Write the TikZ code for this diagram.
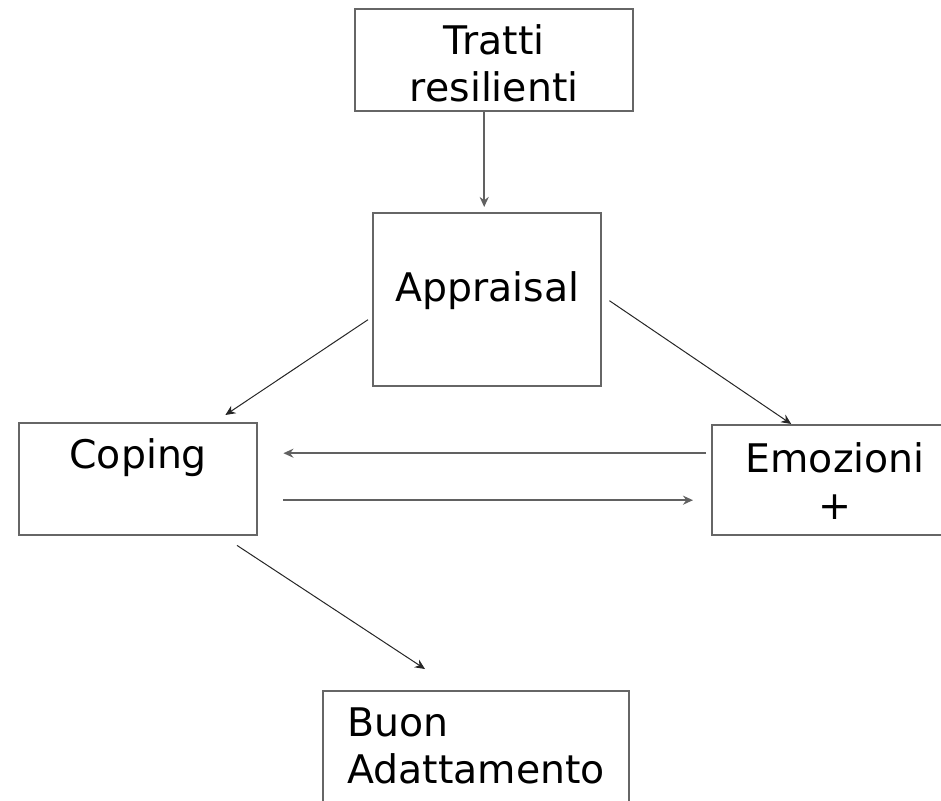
\documentclass[tikz,border=0pt]{standalone}
\usepackage{fontspec}
\setmainfont{DejaVu Sans}
\usetikzlibrary{arrows.meta, calc, positioning}

\begin{document}
\begin{tikzpicture}[
    x=0.5pt, y=-0.5pt,
    every node/.style={font=\fontsize{19.7}{23.5}\selectfont},
    box/.style={rectangle, draw=black!60, line width=1.2pt, inner sep=0pt, anchor=north west},
    arrow/.style={->, >={Stealth[length=5pt,width=4.5pt]}, draw=black!62, line width=1pt},
    thinarrow/.style={->, >={Stealth[length=5pt,width=4.5pt]}, draw=black!85, line width=0.5pt}
]
\useasboundingbox (0,0) rectangle (941,801);

% Boxes
\node (tratti) [box, align=center, minimum width=139pt, text height=46pt, text depth=5pt] at (354,8) {Tratti\\resilienti};
\node (appraisal) [box, minimum width=114pt, text height=44pt, text depth=42.5pt] at (372,212) {Appraisal};
\node (coping) [box, minimum width=119pt, text height=22.5pt, text depth=33.5pt] at (18,422) {Coping};
\node (emozioni) [box, align=center, minimum width=123pt, text height=47pt, text depth=8pt] at (711,424) {Emozioni\\+};
\node (buon) [box, align=left, minimum width=153pt, text height=46pt, text depth=24pt] at (322,690) {Buon\\Adattamento};

% Arrows
\draw [arrow, shorten >=2.5pt] ($(tratti.south)+(-10,0)$) -- ($(appraisal.north)+(-3,0)$);
\draw [thinarrow] ($(appraisal.west)+(-4,20)$) -- ($(coping.north east)+(-33,-7)$);
\draw [thinarrow] ($(appraisal.east)+(7,1)$) -- ($(emozioni.north)+(-44,0)$);
\draw [arrow] ($(emozioni.west)+(-5,-27)$) -- ($(coping.east)+(25,-26)$);
\draw [arrow] ($(coping.east)+(25,21)$) -- ($(emozioni.west)+(-18,20)$);
\draw [thinarrow] ($(coping.south west)+(219,9)$) -- ($(buon.north west)+(103,-21)$);

\end{tikzpicture}
\end{document}
